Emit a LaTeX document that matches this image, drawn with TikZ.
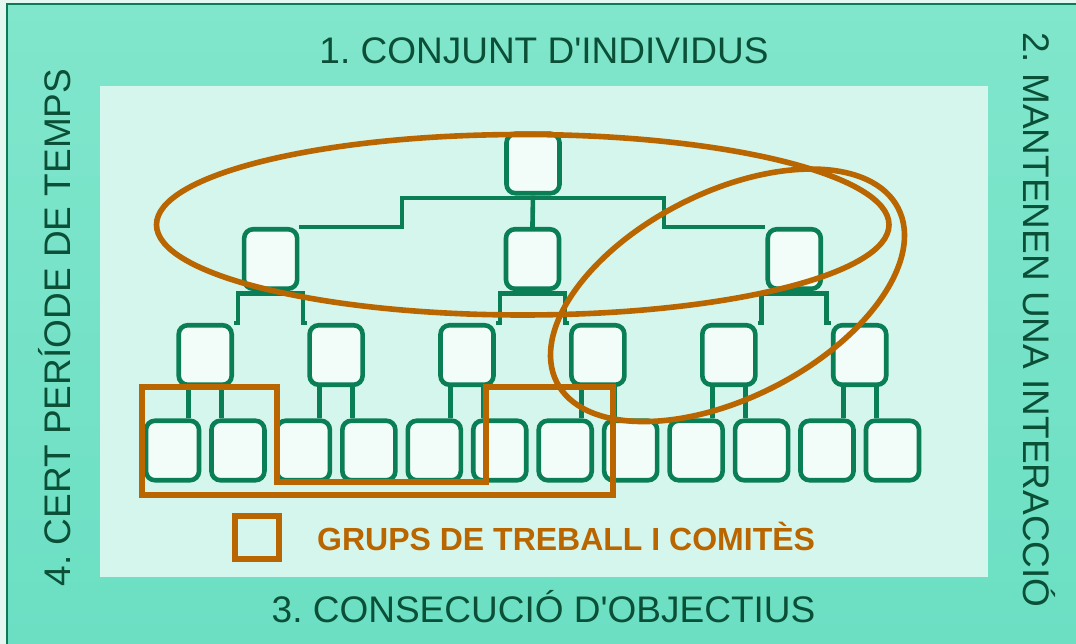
\documentclass[tikz,border=0pt]{standalone}
\usepackage{fontspec}
\setmainfont{Liberation Sans}
\usetikzlibrary{calc}
\definecolor{bgout}{HTML}{E4F7F0}
\definecolor{tealtop}{HTML}{80E6CC}
\definecolor{tealbot}{HTML}{6BDFC3}
\definecolor{borderg}{HTML}{0B7A55}
\definecolor{innerbg}{HTML}{D5F6EC}
\definecolor{boxfill}{HTML}{F2FCF9}
\definecolor{boxgreen}{HTML}{0A7E55}
\definecolor{txtgreen}{HTML}{0B4F37}
\definecolor{grporange}{HTML}{B96600}
\frenchspacing
\begin{document}
\begin{tikzpicture}[x=1pt,y=-1pt,
  box/.style={draw=boxgreen, line width=4.6pt, fill=boxfill, rounded corners=9pt,
    minimum width=53pt, minimum height=59.5pt, inner sep=0pt},
  conn/.style={draw=boxgreen, line width=4.6pt},
  grp/.style={draw=grporange, line width=5.6pt},
  lbl/.style={text=txtgreen, font=\fontsize{37}{40}\selectfont, inner sep=0pt}]
\useasboundingbox (0,0) rectangle (1076,644);
\clip (0,0) rectangle (1076,644);
% backgrounds
\fill[bgout] (0,0) rectangle (1076,644);
\shade[top color=tealtop, bottom color=tealbot] (7,4) rectangle (1090,660);
\draw[borderg, line width=2pt] (7,660) -- (7,4) -- (1090,4);
\fill[innerbg] (100,86) rectangle (988,577);
% labels
\node[lbl, anchor=base] (t1) at (544,64) {1. CONJUNT D\textquotesingle INDIVIDUS};
\node[lbl, anchor=base, rotate=-90] (t2) at (1023,320) {2. MANTENEN UNA INTERACCIÓ};
\node[lbl, anchor=base] (t3) at (543.5,622) {3. CONSECUCIÓ D\textquotesingle OBJECTIUS};
\node[lbl, anchor=base, rotate=90] (t4) at (70.5,327.5) {4. CERT PERÍODE DE TEMPS};
% boxes
\node[box] (top) at (533,163.5) {};
\foreach \k in {0,1,2} \node[box] (b\k) at ({270.65+261.8*\k},259) {};
\foreach \j in {0,...,5} \node[box] (c\j) at ({205.2+130.9*\j},355) {};
\foreach \i in {0,...,11} \node[box] (d\i) at ({172.5+65.45*\i},450.5) {};
% connectors
\draw[conn] (top.south) -- (b1.north);
\draw[conn] (b0.north east) -| ($(top.south)+(-131,2.5)$) -- ($(top.south)+(131,2.5)$) |- (b2.north west);
\foreach \k [evaluate=\k as \l using {int(2*\k)}, evaluate=\k as \r using {int(2*\k+1)}] in {0,1,2}
  \draw[conn] (c\l.north east) -| ($(b\k.south)+(-32.5,2.5)$) -- ($(b\k.south)+(32.5,2.5)$) |- (c\r.north west);
\foreach \j [evaluate=\j as \l using {int(2*\j)}, evaluate=\j as \r using {int(2*\j+1)}] in {0,...,5}{
  \draw[conn] ($(c\j.south)+(-16.5,0)$) coordinate (tl) -- (tl |- d\l.north);
  \draw[conn] ($(c\j.south)+(16.5,0)$) coordinate (tr) -- (tr |- d\r.north);
}
% groups
\draw[grp] (522.75,224.75) ellipse [x radius=366.25, y radius=90.25];
\draw[grp, rotate around={27:(727.5,295.3)}] (727.5,295.3) ellipse [x radius=191.6, y radius=102.7];
\draw[grp, line width=6pt] (141.5,387) -- (277,387) -- (277,482) -- (486,482) -- (486,387)
  -- (612.5,387) -- (612.5,495) -- (141.5,495) -- cycle;
% legend
\node[draw=grporange, line width=6pt, minimum width=44pt, minimum height=43pt, inner sep=0pt] (legsq) at (257,537.5) {};
\node[anchor=base west, text=grporange, font=\bfseries\fontsize{32}{36}\selectfont, inner sep=0pt] (legtxt) at (317,550.5) {GRUPS DE TREBALL I COMITÈS};
\end{tikzpicture}
\end{document}
